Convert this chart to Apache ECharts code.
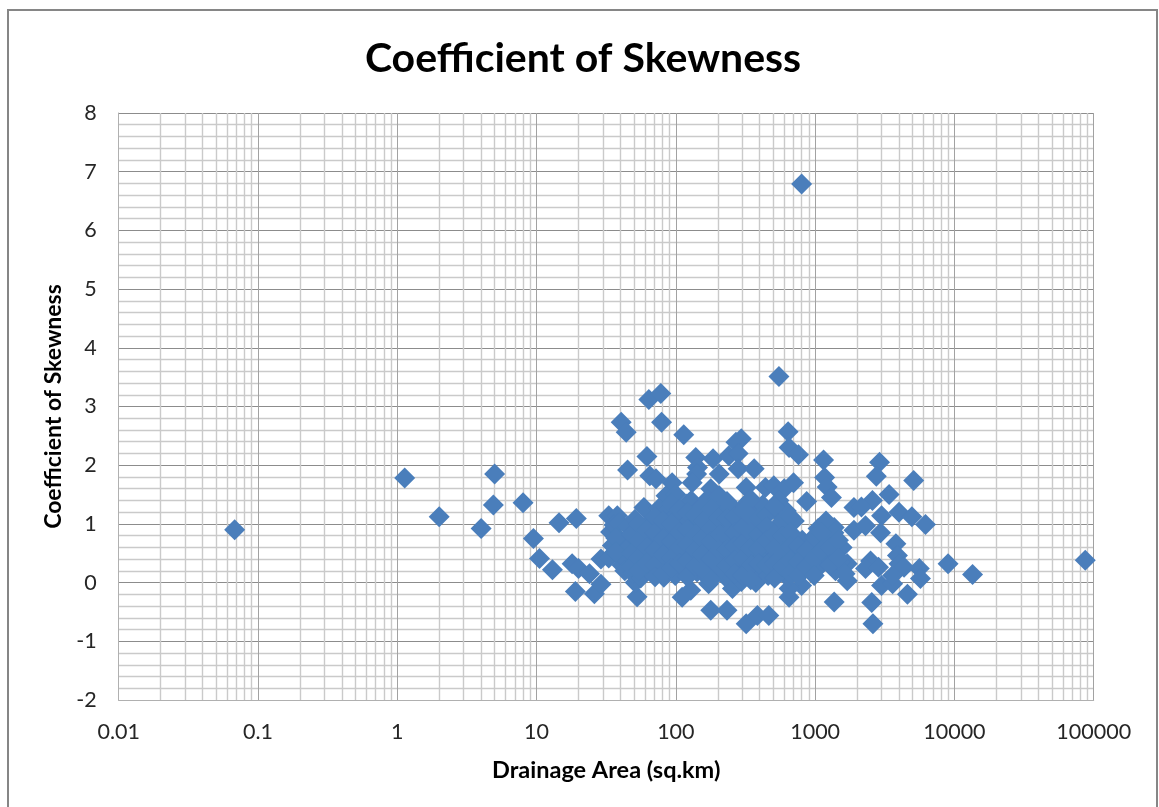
<!DOCTYPE html>
<html>
<head>
<meta charset="utf-8">
<title>Coefficient of Skewness</title>
<style>
  html, body { margin: 0; padding: 0; background: #fff; }
  #chart { width: 1159px; height: 807px; }
</style>
<script src="https://cdn.jsdelivr.net/npm/echarts@6/dist/echarts.min.js"></script>
</head>
<body>
<div id="chart"></div>
<script>
// values, outliers first and then the dense middle column by column
const drainageArea = [
  0.068, 1.13, 2.0, 4.0, 5.0, 4.9, 8.0, 9.5, 10.5, 13, 14.5, 19.3, 18, 19, 20, 24, 26, 29, 29,
  40.5, 44, 64, 78, 79, 114, 550, 295, 270, 640, 650, 760, 800, 62, 45, 65, 72, 139, 143, 141, 185, 240, 280, 205, 280, 365,
  94, 131, 178, 320, 440, 505, 600, 700, 1150, 1170, 1220, 1310, 870, 85, 120, 550, 59, 33, 38,
  52.7, 51, 82, 111, 128, 178, 233, 320, 385, 465, 172, 255, 375, 650, 800, 650, 1370,
  2900, 2750, 5100, 3400, 2580, 1900, 2150, 4000, 4950, 6200, 3000, 1900, 2300, 2950, 3800, 3900, 9000, 13500, 87000,
  5600, 5700, 2500, 2300, 2850, 3000, 3600, 4600, 2550, 2600, 4000, 4350, 3600, 1700, 1560, 1700, 1370,
  34, 35, 33, 36, 39, 40, 38, 41, 45, 46, 44, 43, 51, 52, 50, 49, 58, 57, 60, 56, 66, 68, 64, 65,
  76, 74, 78, 75, 73, 86, 88, 84, 90, 100, 98, 103, 96, 102, 99, 113, 116, 110, 118, 129, 125, 133, 127, 135,
  147, 150, 144, 152, 142, 168, 165, 172, 160, 170, 163, 191, 195, 186, 198, 188, 218, 212, 224, 210, 226,
  248, 244, 255, 240, 252, 258, 283, 276, 290, 272, 295, 323, 316, 330, 310, 335, 368, 360, 378, 352, 372,
  420, 410, 432, 402, 428, 478, 468, 490, 460, 545, 535, 556, 525, 560, 622, 610, 635, 600, 640,
  709, 695, 722, 688, 808, 790, 825, 921, 900, 940, 1050, 1020, 1080, 1197, 1170, 1230, 1365, 1330, 1400, 1556, 1500, 1640,
  37, 37, 48, 48, 48, 54, 54, 54, 54, 62, 62, 62, 71, 71, 71, 71, 71, 81, 81, 81, 81,
  93, 93, 93, 93, 93, 106, 106, 106, 106, 121, 121, 121, 121, 121, 138, 138, 138, 138,
  156, 156, 156, 156, 156, 179, 179, 179, 179, 179, 205, 205, 205, 205, 205,
  233, 233, 233, 233, 233, 265, 265, 265, 265, 265, 303, 303, 303, 303, 303,
  345, 345, 345, 345, 345, 345, 394, 394, 394, 394, 449, 449, 449, 449, 512, 512, 512, 512, 512,
  583, 583, 583, 583, 665, 665, 665, 665, 665, 757, 757, 757, 865, 865, 985, 985, 985, 1110, 1110, 1280, 1280, 1470, 1470
];
const skewness = [
  0.9, 1.78, 1.12, 0.92, 1.85, 1.32, 1.36, 0.75, 0.41, 0.22, 1.02, 1.09, 0.32, -0.15, 0.24, 0.15, -0.19, -0.03, 0.4,
  2.73, 2.56, 3.12, 3.22, 2.73, 2.52, 3.51, 2.45, 2.39, 2.57, 2.3, 2.18, 6.79, 2.15, 1.92, 1.82, 1.77, 2.13, 1.96, 1.85, 2.11, 2.16, 2.2, 1.85, 1.94, 1.94,
  1.7, 1.7, 1.6, 1.62, 1.62, 1.65, 1.6, 1.7, 2.09, 1.79, 1.63, 1.45, 1.38, 1.48, 1.34, 1.4, 1.28, 1.14, 1.14,
  -0.24, 0, 0.09, -0.25, -0.13, -0.47, -0.47, -0.7, -0.56, -0.56, -0.02, -0.1, 0, -0.25, -0.05, -0.1, -0.33,
  2.05, 1.81, 1.74, 1.5, 1.4, 1.28, 1.29, 1.2, 1.12, 0.99, 1.14, 0.89, 0.97, 0.85, 0.66, 0.46, 0.32, 0.14, 0.38,
  0.24, 0.07, 0.37, 0.24, 0.26, -0.05, -0.02, -0.2, -0.34, -0.7, 0.32, 0.26, 0.12, 0.03, 0.6, 0.32, 0.94,
  0.86, 0.63, 0.42, 0.98, 1.02, 0.73, 0.5, 0.3, 0.96, 0.6, 0.38, 0.2, 1.08, 0.75, 0.46, 0.16, 0.92, 0.63, 0.33, 0.08, 1.05, 0.78, 0.5, 0.2,
  1.27, 0.95, 0.68, 0.43, 0.22, 1.22, 0.88, 0.6, 0.32, 1.5, 1.12, 0.76, 0.55, 0.38, 0.12, 0.95, 0.68, 0.45, 0.2, 1.4, 1.05, 0.78, 0.55, 0.3,
  1.25, 0.92, 0.65, 0.4, 0.18, 1.42, 1.15, 0.85, 0.6, 0.3, 0.12, 1.35, 1.02, 0.72, 0.48, 0.2, 1.2, 0.92, 0.65, 0.38, 0.1,
  1.3, 1.0, 0.75, 0.5, 0.25, 0.08, 1.18, 0.88, 0.6, 0.32, 0.02, 1.35, 1.05, 0.78, 0.5, 0.22, 1.2, 0.92, 0.65, 0.38, 0.12,
  1.32, 1.0, 0.75, 0.5, 0.28, 0.88, 0.62, 0.38, 0.12, 1.18, 0.95, 0.7, 0.45, 0.2, 1.22, 0.9, 0.62, 0.32, 0.08,
  1.05, 0.78, 0.5, 0.25, 0.72, 0.45, 0.2, 0.62, 0.32, 0.18, 0.92, 0.58, 0.28, 1.05, 0.72, 0.42, 0.85, 0.55, 0.2, 0.6, 0.35, 0.15,
  0.76, 0.52, 0.82, 0.5, 0.28, 1.0, 0.72, 0.42, 0.2, 0.9, 0.6, 0.34, 1.12, 0.85, 0.55, 0.3, 0.1, 1.05, 0.75, 0.48, 0.15,
  1.35, 1.0, 0.7, 0.42, 0.25, 1.25, 0.85, 0.6, 0.32, 1.2, 0.9, 0.65, 0.38, 0.1, 1.15, 0.82, 0.55, 0.28,
  1.3, 1.05, 0.75, 0.48, 0.22, 1.25, 0.92, 0.7, 0.4, 0.05, 1.48, 1.1, 0.82, 0.55, 0.28,
  1.38, 1.08, 0.82, 0.55, 0.28, 1.12, 0.85, 0.62, 0.38, 0.15, 1.22, 0.95, 0.68, 0.42, 0.12,
  1.42, 1.12, 0.85, 0.58, 0.3, 0.05, 1.1, 0.82, 0.58, 0.32, 1.15, 0.95, 0.72, 0.3, 1.3, 0.82, 0.58, 0.32, 0.08,
  1.05, 0.78, 0.52, 0.28, 1.12, 0.85, 0.62, 0.38, 0.15, 0.62, 0.35, 0.12, 0.55, 0.28, 0.78, 0.42, 0.12, 0.85, 0.55, 0.6, 0.3, 0.72, 0.42
];
// the log axis splits its minor ticks evenly in log space, so 2..9 of each decade are listed here
const minorAreaTicks = [
  0.02, 0.03, 0.04, 0.05, 0.06, 0.07, 0.08, 0.09,
  0.2, 0.3, 0.4, 0.5, 0.6, 0.7, 0.8, 0.9,
  2, 3, 4, 5, 6, 7, 8, 9,
  20, 30, 40, 50, 60, 70, 80, 90,
  200, 300, 400, 500, 600, 700, 800, 900,
  2000, 3000, 4000, 5000, 6000, 7000, 8000, 9000,
  20000, 30000, 40000, 50000, 60000, 70000, 80000, 90000
];

const chart = echarts.init(document.getElementById("chart"));
const fontFamily = "Lato, 'Noto Sans', sans-serif";

chart.setOption({
  animation: false,
  backgroundColor: "#fff",
  title: {
    text: "Coefficient of Skewness",
    left: 578,
    top: 33,
    textAlign: "center",
    textStyle: { fontFamily, fontSize: 41, fontWeight: "bold", color: "#000" }
  },
  graphic: [
    {
      type: "rect",
      silent: true,
      shape: { x: 8, y: 10, width: 1149, height: 820 },
      style: { fill: "none", stroke: "#868686", lineWidth: 2 }
    }
  ],
  grid: { left: 118.7, right: 65.3, top: 113, height: 587 },
  xAxis: {
    type: "log",
    logBase: 10,
    min: 0.01,
    max: 100000,
    name: "Drainage Area (sq.km)",
    nameLocation: "middle",
    nameGap: 58,
    nameTextStyle: { fontFamily, fontSize: 23.5, fontWeight: "bold", color: "#000" },
    axisLine: { onZero: false, lineStyle: { color: "#b0b0b0", width: 1 } },
    axisTick: { show: false },
    axisLabel: {
      margin: 21,
      fontFamily,
      fontSize: 21.5,
      color: "#262626",
      showMinLabel: true,
      showMaxLabel: true,
      formatter: v => String(Number(v.toPrecision(3)))
    },
    splitLine: { show: true, lineStyle: { color: "#a2a2a2", width: 1 } }
  },
  yAxis: {
    type: "value",
    min: -2,
    max: 8,
    interval: 1,
    name: "Coefficient of Skewness",
    nameLocation: "middle",
    nameGap: 48,
    nameTextStyle: { fontFamily, fontSize: 23, fontWeight: "bold", color: "#000" },
    axisLine: { show: true, lineStyle: { color: "#b0b0b0", width: 1 } },
    axisTick: { show: false },
    axisLabel: { margin: 22, fontFamily, fontSize: 21.5, color: "#262626" },
    splitLine: { show: true, lineStyle: { color: "#8c8c8c", width: 1 } },
    minorTick: { show: false, splitNumber: 5 },
    minorSplitLine: { show: true, lineStyle: { color: "#cacaca", width: 1.4 } }
  },
  series: [
    {
      name: "minor grid",
      type: "scatter",
      data: [],
      silent: true,
      z: 1,
      markLine: {
        silent: true,
        z: 1,
        symbol: "none",
        animation: false,
        label: { show: false },
        lineStyle: { type: "solid", color: "#cacaca", width: 1.4 },
        data: minorAreaTicks.map(v => ({ xAxis: v }))
      }
    },
    {
      name: "Coefficient of Skewness",
      type: "scatter",
      symbol: "diamond",
      symbolSize: 21,
      z: 3,
      large: false,
      itemStyle: { color: "#4a7ebb", opacity: 1 },
      data: drainageArea.map((a, i) => [a, skewness[i]])
    }
  ]
});
</script>
</body>
</html>
